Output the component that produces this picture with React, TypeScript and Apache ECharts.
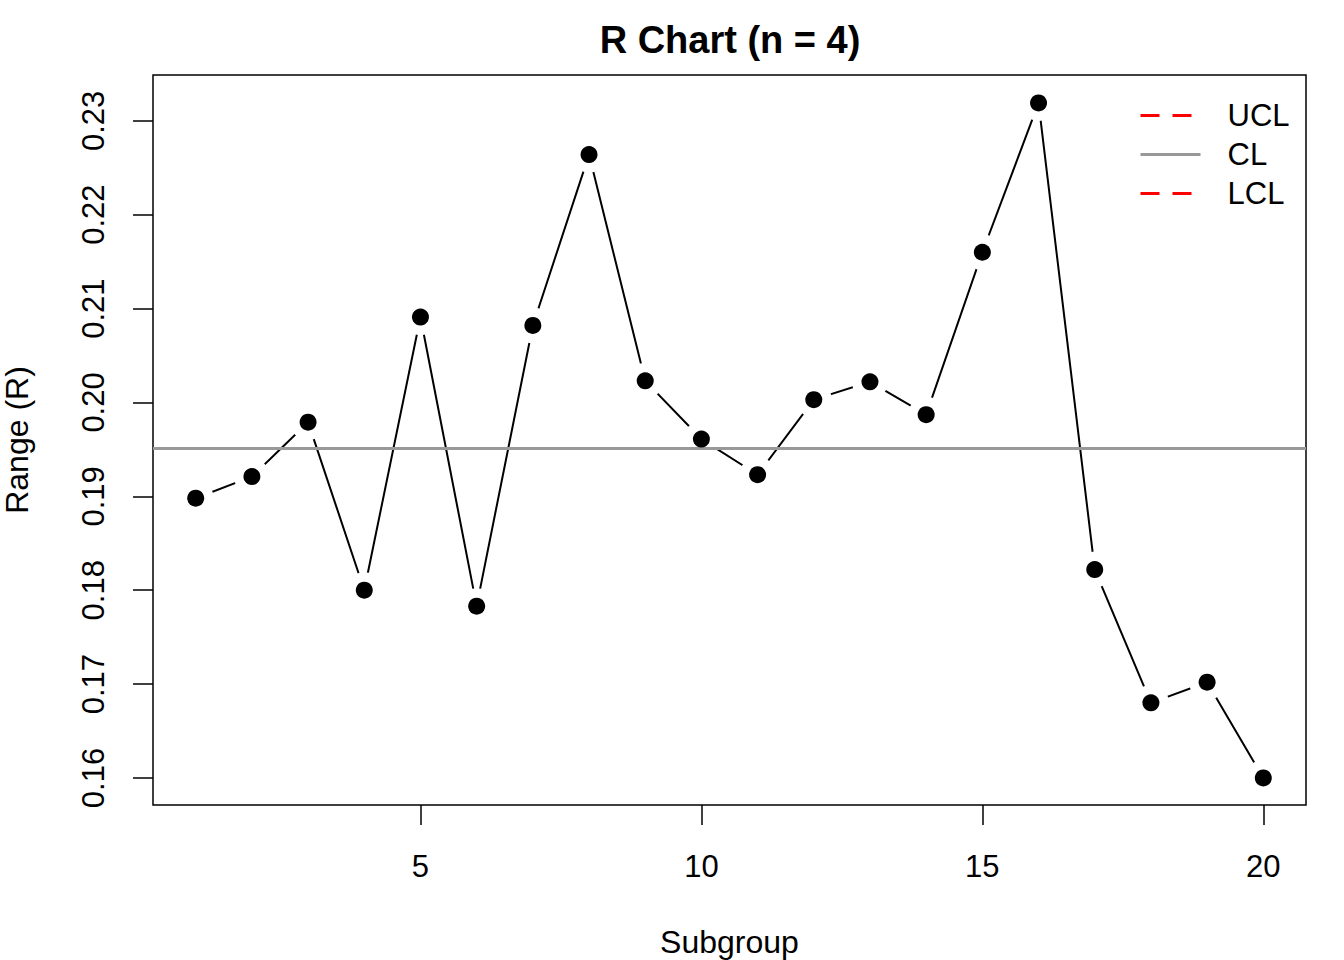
import React, { useEffect, useRef } from "react";
import * as echarts from "echarts";

const subgroups = [1, 2, 3, 4, 5, 6, 7, 8, 9, 10, 11, 12, 13, 14, 15, 16, 17, 18, 19, 20];
const ranges = [
  0.1898, 0.1921, 0.1979, 0.1800, 0.2091, 0.1783, 0.2082, 0.2264, 0.2023, 0.1961,
  0.1923, 0.2003, 0.2022, 0.1987, 0.2160, 0.2319, 0.1822, 0.1680, 0.1702, 0.1600,
];
const centerLine = 0.1951;
const upperLimit = 0.4452;
const lowerLimit = 0;
const xTicks = [5, 10, 15, 20];
const yTicks = [0.16, 0.17, 0.18, 0.19, 0.2, 0.21, 0.22, 0.23];
const legendNames = ["UCL", "CL", "LCL"];

const FONT = "'Liberation Sans', Arial, Helvetica, sans-serif";

export default function App() {
  const ref = useRef<HTMLDivElement>(null);
  useEffect(() => {
    if (!ref.current) return;
    const chart = echarts.init(ref.current, null, { renderer: "svg" });
    const xMin = 0.24;
    const xMax = 20.76;
    const pts = subgroups.map((s, i) => [s, ranges[i]]);
    chart.setOption({
      animation: false,
      backgroundColor: "#fff",
      textStyle: { fontFamily: FONT },
      title: {
        text: "R Chart (n = 4)",
        left: 725,
        top: 16,
        textAlign: "center",
        textStyle: { fontFamily: FONT, fontSize: 38, fontWeight: "bold", color: "#000" },
      },
      legend: {
        data: legendNames,
        orient: "vertical",
        left: 1134,
        top: 91,
        itemWidth: 60,
        itemHeight: 14,
        itemGap: 0,
        selectedMode: false,
        itemStyle: { opacity: 0 },
        lineStyle: { width: 3 },
        textStyle: { fontFamily: FONT, fontSize: 31, color: "#000", lineHeight: 39, padding: [0, 0, 0, 22] },
      },
      grid: {
        left: 153,
        top: 75,
        width: 1153,
        height: 730,
        show: true,
        outerBoundsMode: "none",
        containLabel: false,
        borderColor: "#000",
        borderWidth: 1.5,
        backgroundColor: "transparent",
      },
      xAxis: {
        type: "value",
        min: xMin,
        max: xMax,
        name: "Subgroup",
        nameLocation: "middle",
        nameGap: 121,
        nameTextStyle: { fontFamily: FONT, fontSize: 32, color: "#000" },
        axisLine: { show: false },
        splitLine: { show: false },
        axisTick: {
          show: true,
          customValues: xTicks,
          length: 20,
          lineStyle: { color: "#000", width: 1.5 },
        },
        axisLabel: {
          customValues: xTicks,
          fontFamily: FONT,
          fontSize: 31,
          color: "#000",
          margin: 46,
        },
      },
      yAxis: {
        type: "value",
        min: 0.15712,
        max: 0.23488,
        name: "Range (R)",
        nameLocation: "middle",
        nameGap: 120,
        nameRotate: 90,
        nameTextStyle: { fontFamily: FONT, fontSize: 32, color: "#000" },
        axisLine: { show: false },
        splitLine: { show: false },
        axisTick: {
          show: true,
          customValues: yTicks,
          length: 20,
          lineStyle: { color: "#000", width: 1.5 },
        },
        axisLabel: {
          customValues: yTicks,
          rotate: 90,
          fontFamily: FONT,
          fontSize: 31,
          color: "#000",
          margin: 44,
          formatter: (v: number) => v.toFixed(2),
        },
      },
      series: [
        {
          name: "R",
          type: "line",
          data: pts,
          z: 2,
          symbol: "circle",
          symbolSize: 36,
          itemStyle: { color: "#fff", borderWidth: 0 },
          lineStyle: { color: "#000", width: 2 },
          silent: true,
        },
        {
          name: "UCL",
          type: "line",
          data: [[xMin, upperLimit], [xMax, upperLimit]],
          symbol: "none",
          z: 3,
          color: "#ff0000",
          lineStyle: { color: "#ff0000", width: 3, type: [19, 13] },
          silent: true,
        },
        {
          name: "CL",
          type: "line",
          data: [[xMin, centerLine], [xMax, centerLine]],
          symbol: "none",
          z: 3,
          color: "#999999",
          lineStyle: { color: "#999999", width: 3 },
          silent: true,
        },
        {
          name: "LCL",
          type: "line",
          data: [[xMin, lowerLimit], [xMax, lowerLimit]],
          symbol: "none",
          z: 3,
          color: "#ff0000",
          lineStyle: { color: "#ff0000", width: 3, type: [19, 13] },
          silent: true,
        },
        {
          name: "points",
          type: "scatter",
          data: pts,
          z: 4,
          symbol: "circle",
          symbolSize: 17,
          itemStyle: { color: "#000", opacity: 1 },
          silent: true,
        },
      ],
    });
    return () => chart.dispose();
  }, []);
  return (
    <div
      ref={ref}
      style={{ position: "fixed", left: 0, top: 0, width: 1344, height: 960, background: "#fff" }}
    />
  );
}
